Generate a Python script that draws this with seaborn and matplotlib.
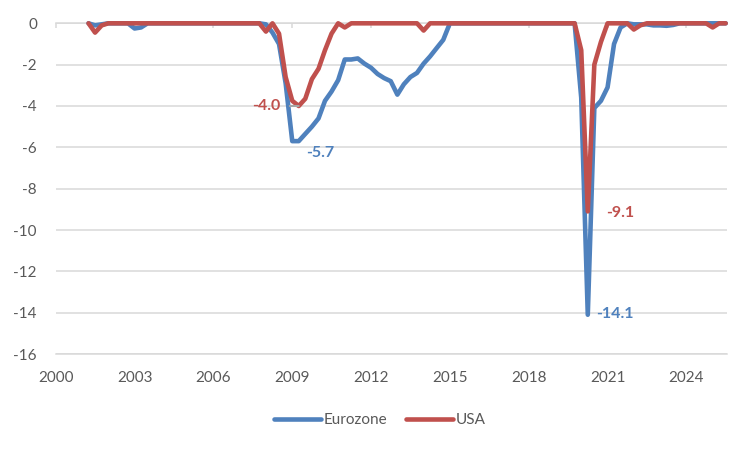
"""
Quarterly GDP shortfall versus previous peak (%), Eurozone vs USA.
Saves the chart as out.png.
"""

import matplotlib

matplotlib.use("Agg")
import matplotlib.dates as mdates
import matplotlib.pyplot as plt
import pandas as pd
import seaborn as sns

# first quarter of the series (quarter start dates)
FIRST_QUARTER = "2001-04-01"

# one row per calendar year, 2001 starts in Q2
EUROZONE = [
    0, -0.1, -0.05,                 # 2001
    0, 0, 0, 0,                     # 2002
    -0.25, -0.2, 0, 0,              # 2003
    0, 0, 0, 0,                     # 2004
    0, 0, 0, 0,                     # 2005
    0, 0, 0, 0,                     # 2006
    0, 0, 0, 0,                     # 2007
    -0.05, -0.45, -1.0, -2.9,       # 2008
    -5.7, -5.7, -5.35, -5.0,        # 2009
    -4.6, -3.75, -3.3, -2.75,       # 2010
    -1.75, -1.75, -1.7, -1.95,      # 2011
    -2.15, -2.45, -2.65, -2.8,      # 2012
    -3.45, -2.95, -2.6, -2.4,       # 2013
    -1.95, -1.6, -1.2, -0.8,        # 2014
    0, 0, 0, 0,                     # 2015
    0, 0, 0, 0,                     # 2016
    0, 0, 0, 0,                     # 2017
    0, 0, 0, 0,                     # 2018
    0, 0, 0, 0,                     # 2019
    -3.6, -14.1, -4.1, -3.75,       # 2020
    -3.1, -1.0, -0.2, 0,            # 2021
    -0.05, -0.05, -0.05, -0.1,      # 2022
    -0.1, -0.12, -0.08, 0,          # 2023
    0, 0, 0, 0,                     # 2024
    0, 0, 0,                        # 2025
]

USA = [
    0, -0.45, -0.1,                 # 2001
    0, 0, 0, 0,                     # 2002
    0, 0, 0, 0,                     # 2003
    0, 0, 0, 0,                     # 2004
    0, 0, 0, 0,                     # 2005
    0, 0, 0, 0,                     # 2006
    0, 0, 0, 0,                     # 2007
    -0.4, 0, -0.5, -2.6,            # 2008
    -3.75, -4.0, -3.65, -2.7,       # 2009
    -2.2, -1.3, -0.5, 0,            # 2010
    -0.2, 0, 0, 0,                  # 2011
    0, 0, 0, 0,                     # 2012
    0, 0, 0, 0,                     # 2013
    -0.35, 0, 0, 0,                 # 2014
    0, 0, 0, 0,                     # 2015
    0, 0, 0, 0,                     # 2016
    0, 0, 0, 0,                     # 2017
    0, 0, 0, 0,                     # 2018
    0, 0, 0, 0,                     # 2019
    -1.3, -9.1, -2.0, -0.9,         # 2020
    0, 0, 0, 0,                     # 2021
    -0.3, -0.1, 0, 0,               # 2022
    0, 0, 0, 0,                     # 2023
    0, 0, 0, 0,                     # 2024
    -0.2, 0, 0,                     # 2025
]

SERIES = ["Eurozone", "USA"]
TICK_YEARS = [2000, 2003, 2006, 2009, 2012, 2015, 2018, 2021, 2024]
Y_TICKS = [0, -2, -4, -6, -8, -10, -12, -14, -16]

# labelled troughs: series, quarter, text offset (pt), alignment, leader line
TROUGH_LABELS = [
    ("USA", "2009-04-01", (-13.3, 0.0), "right", True),
    ("Eurozone", "2009-04-01", (5.4, -8.2), "left", False),
    ("USA", "2020-04-01", (13.1, -0.9), "left", False),
    ("Eurozone", "2020-04-01", (5.9, 0.6), "left", False),
]

COLORS = {"Eurozone": "#4F81BD", "USA": "#C0504D"}
GRID = "#D9D9D9"
TEXT = "#595959"

sns.set_style("white")
plt.rcParams["font.family"] = ["Lato", "DejaVu Sans"]
plt.rcParams["axes.unicode_minus"] = False


def build_frame() -> pd.DataFrame:
    quarters = pd.date_range(FIRST_QUARTER, periods=len(EUROZONE), freq="QS")
    wide = pd.DataFrame({"quarter": quarters, "Eurozone": EUROZONE, "USA": USA})
    return wide.melt(id_vars="quarter", var_name="region", value_name="gap")


def main() -> None:
    df = build_frame()

    fig = plt.figure(figsize=(7.49, 4.5), dpi=100)
    ax = fig.add_axes([0.0744, 0.2133, 0.8963, 0.7349])

    sns.lineplot(
        data=df, x="quarter", y="gap", hue="region", hue_order=SERIES,
        palette=COLORS, linewidth=3.3, errorbar=None, ax=ax,
        clip_on=False, solid_joinstyle="round", solid_capstyle="round",
        zorder=3,
    )

    ax.set_xlim(pd.Timestamp("2000-01-01"), pd.Timestamp("2025-07-20"))
    ax.set_ylim(-16, 0)
    ax.set_yticks(Y_TICKS)
    ax.set_xticks([pd.Timestamp(f"{y}-01-01") for y in TICK_YEARS])
    ax.xaxis.set_major_formatter(mdates.DateFormatter("%Y"))
    ax.set_xlabel("")
    ax.set_ylabel("")

    ax.yaxis.grid(True, color=GRID, linewidth=1.1)
    ax.xaxis.grid(False)
    for side in ["left", "right"]:
        ax.spines[side].set_visible(False)
    for side in ["top", "bottom"]:
        ax.spines[side].set_color(GRID)
        ax.spines[side].set_linewidth(1.1)

    ax.tick_params(axis="y", length=0, pad=13.5, labelsize=11, labelcolor=TEXT)
    ax.tick_params(
        axis="x", bottom=False, top=True, labelbottom=True, labeltop=False,
        direction="in", length=3.6, width=1.1, color=GRID,
        pad=12, labelsize=11, labelcolor=TEXT,
    )

    for region, quarter, offset, ha, leader in TROUGH_LABELS:
        when = pd.Timestamp(quarter)
        value = df.loc[(df["region"] == region) & (df["quarter"] == when), "gap"].iloc[0]
        ax.annotate(
            f"{value:.1f}",
            xy=(mdates.date2num(when), value),
            xytext=offset, textcoords="offset points",
            ha=ha, va="center", color=COLORS[region],
            fontsize=11.5, fontweight="bold", annotation_clip=False, zorder=4,
            arrowprops=(
                dict(arrowstyle="-", color="#A6A6A6", lw=1.5, shrinkA=4.5, shrinkB=0)
                if leader else None
            ),
        )

    sns.move_legend(
        ax, "center", bbox_to_anchor=(0.507, 0.067),
        bbox_transform=fig.transFigure, ncol=2, frameon=False, title=None,
        fontsize=11, handlelength=3.1, handletextpad=0.15, columnspacing=1.2,
    )
    for text in ax.get_legend().get_texts():
        text.set_color(TEXT)

    fig.savefig("out.png", dpi=100)
    plt.close(fig)


if __name__ == "__main__":
    main()
